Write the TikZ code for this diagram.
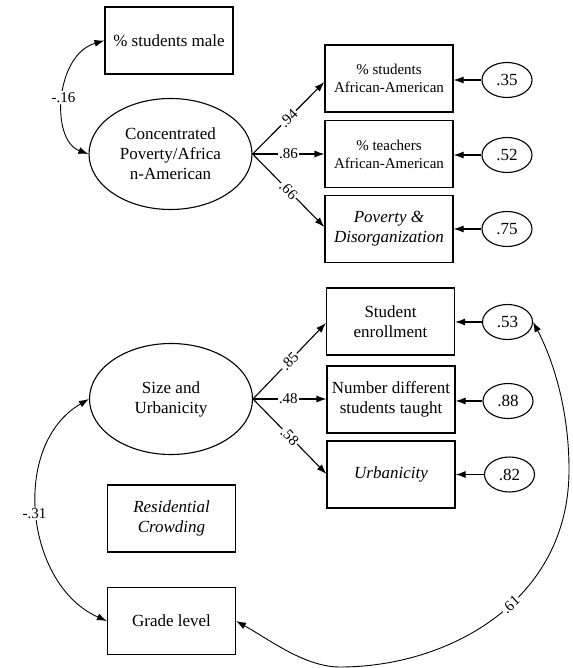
\documentclass[tikz,border=0pt]{standalone}
\usepackage{fontspec}
\setmainfont{Liberation Serif}
\usetikzlibrary{shapes.geometric,arrows.meta}
\tikzset{
  box/.style={draw, line width=1.1pt, minimum width=128pt, minimum height=67pt, inner sep=0pt, align=center, font=\fontsize{17}{20}\selectfont},
  smallbox/.style={box, font=\fontsize{15}{18}\selectfont},
  lat/.style={draw, ellipse, line width=1.1pt, minimum width=163pt, minimum height=111pt, inner sep=0pt, align=center, font=\fontsize{17}{20}\selectfont},
  err/.style={draw, ellipse, line width=1.1pt, minimum width=50pt, minimum height=35pt, inner sep=0pt, font=\fontsize{17}{20}\selectfont},
  arr/.style={line width=1.1pt, -{Latex[length=10pt,width=7pt]}},
  darr/.style={line width=0.9pt, {Latex[length=10pt,width=7pt]}-{Latex[length=10pt,width=7pt]}},
  lbl/.style={fill=white, inner sep=1pt, font=\fontsize{15}{17}\selectfont},
}
\begin{document}
\begin{tikzpicture}[x=1pt, y=-1pt]
\useasboundingbox (0,0) rectangle (572,668);
% top block
\node[box] (male) at (169,40.5) {\% students male};
\node[lat] (conc) at (170.5,154) {Concentrated\\Poverty/Africa\\n-American};
\node[smallbox] (saa) at (389,78.5) {\% students\\African-American};
\node[smallbox] (taa) at (389,154) {\% teachers\\African-American};
\node[box, font=\fontsize{17}{20}\selectfont\itshape] (pov) at (389,229) {Poverty \&\\Disorganization};
\node[err] (e35) at (507,80) {.35};
\node[err] (e52) at (507,155) {.52};
\node[err] (e75) at (507,229) {.75};
\coordinate (cE) at (conc.east);
\draw[arr] (cE) -- node[lbl, sloped] {.94} (saa.west |- 0,82);
\draw[arr] (cE) -- node[lbl] {.86} (taa.west);
\draw[arr] (cE) -- node[lbl, sloped] {.66} (pov.west |- 0,227);
\draw[arr] (e35) -- (saa.east |- e35);
\draw[arr] (e52) -- (taa.east |- e52);
\draw[arr] (e75) -- (pov.east |- e75);
\draw[darr] (male.west) .. controls (55,55) and (50,140) .. node[lbl, pos=0.5] {-.16} (conc.west);
% bottom block
\node[lat] (size) at (171,399) {Size and\\Urbanicity};
\node[box] (enr) at (390.5,321.5) {Student\\enrollment};
\node[box] (ndt) at (391,399.5) {Number different\\students taught};
\node[box, font=\fontsize{17}{20}\selectfont\itshape] (urb) at (391,474.5) {Urbanicity};
\node[err] (e53) at (507.5,322) {.53};
\node[err] (e88) at (508,401) {.88};
\node[err] (e82) at (509.5,474.5) {.82};
\node[box, font=\fontsize{17}{20}\selectfont\itshape] (res) at (171.5,518.5) {Residential\\Crowding};
\node[box] (grade) at (171.5,621) {Grade level};
\coordinate (sE) at (size.east);
\draw[arr] (sE) -- node[lbl, sloped] {.85} (enr.west |- 0,323);
\draw[arr] (sE) -- node[lbl, pos=0.48] {.48} (ndt.west |- sE);
\draw[arr] (sE) -- node[lbl, sloped] {.58} (urb.west |- 0,474);
\draw[arr] (e53) -- (enr.east |- e53);
\draw[arr] (e88) -- (ndt.east |- e88);
\draw[arr] (e82) -- (urb.east |- e82);
\draw[darr] (size.west) .. controls (10,445) and (25,585) .. node[lbl, pos=0.5, xshift=-3pt] {-.31} (grade.west);
\coordinate (b1) at (340,667);
\coordinate (b2) at (569,470);
\draw[darr] (grade.east) .. controls (270,640) and (305,667) .. (b1)
  .. controls (450,667) and (569,600) .. node[lbl, sloped, pos=0.56] {.61} (b2)
  .. controls (569,400) and (548,350) .. (e53.east);
\end{tikzpicture}
\end{document}
